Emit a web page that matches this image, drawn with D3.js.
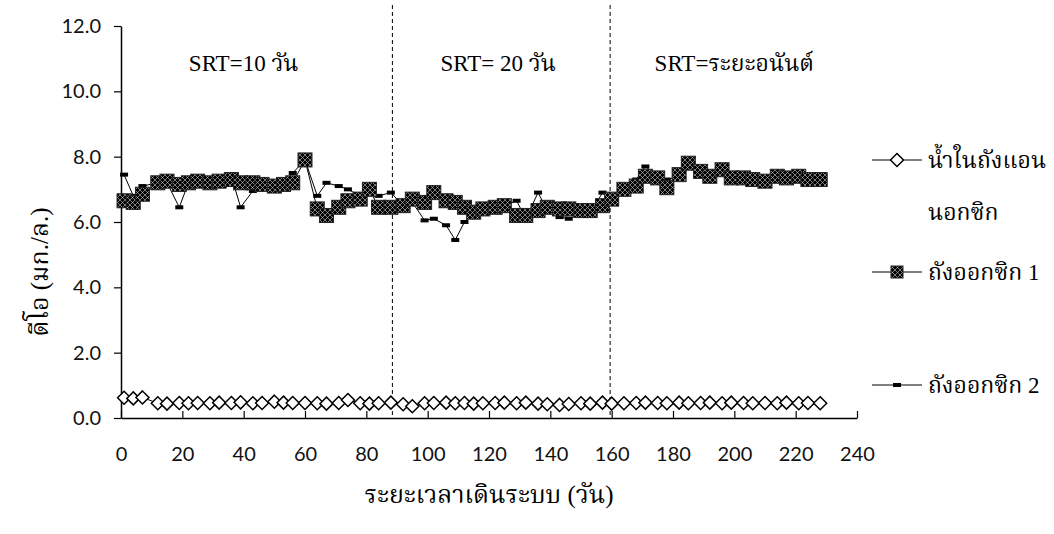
<!DOCTYPE html>
<html>
<head>
<meta charset="utf-8">
<script src="https://cdn.jsdelivr.net/npm/d3@7"></script>
<style>
  html, body { margin: 0; padding: 0; background: #fff; }
  svg { display: block; }
</style>
</head>
<body>
<svg id="chart" width="1054" height="534"></svg>
<script>
// Sampling days (operating time, days)
const days = [1, 4, 7, 12, 15, 19, 22, 25, 29, 32,
  36, 39, 43, 46, 50, 53, 56, 60, 64, 67,
  71, 74, 78, 81, 84, 88, 92, 95, 99, 102,
  106, 109, 112, 115, 118, 122, 125, 129, 132, 136,
  139, 143, 146, 150, 153, 157, 160, 164, 168, 171,
  175, 178, 182, 185, 189, 192, 196, 199, 203, 206,
  210, 214, 217, 221, 224, 228];

// DO in the anoxic tank (mg/L)
const anoxicDO = [0.62, 0.60, 0.63, 0.45, 0.44, 0.46, 0.45, 0.46, 0.45, 0.47,
  0.46, 0.48, 0.45, 0.46, 0.50, 0.47, 0.46, 0.46, 0.45, 0.44,
  0.46, 0.55, 0.45, 0.44, 0.45, 0.47, 0.42, 0.36, 0.45, 0.46,
  0.47, 0.45, 0.46, 0.44, 0.45, 0.46, 0.47, 0.45, 0.47, 0.44,
  0.42, 0.40, 0.43, 0.45, 0.44, 0.47, 0.44, 0.45, 0.46, 0.47,
  0.46, 0.45, 0.47, 0.45, 0.46, 0.47, 0.45, 0.47, 0.46, 0.45,
  0.46, 0.45, 0.47, 0.45, 0.46, 0.45];

// DO in oxic tank 1 (mg/L)
const oxic1DO = [6.65, 6.60, 6.85, 7.20, 7.25, 7.15, 7.20, 7.25, 7.20, 7.25,
  7.30, 7.20, 7.20, 7.15, 7.10, 7.15, 7.20, 7.90, 6.40, 6.20,
  6.45, 6.65, 6.70, 7.00, 6.45, 6.45, 6.50, 6.70, 6.60, 6.90,
  6.65, 6.60, 6.45, 6.30, 6.40, 6.45, 6.50, 6.20, 6.20, 6.35,
  6.45, 6.40, 6.40, 6.35, 6.35, 6.50, 6.70, 7.00, 7.10, 7.40,
  7.35, 7.05, 7.45, 7.80, 7.55, 7.40, 7.60, 7.35, 7.35, 7.30,
  7.25, 7.40, 7.35, 7.40, 7.30, 7.30];

// DO in oxic tank 2 (mg/L)
const oxic2DO = [7.45, 6.80, 7.10, 7.20, 7.20, 6.45, 7.20, 7.20, 7.25, 7.25,
  7.40, 6.45, 6.95, 7.15, 7.10, 7.20, 7.50, 7.90, 6.80, 7.20,
  7.10, 7.00, 6.80, 6.95, 6.80, 6.90, 6.50, 6.60, 6.05, 6.10,
  5.90, 5.45, 6.00, 6.30, 6.40, 6.45, 6.50, 6.65, 6.10, 6.90,
  6.35, 6.15, 6.10, 6.25, 6.25, 6.90, 6.70, 7.00, 7.30, 7.70,
  7.40, 7.30, 7.40, 7.80, 7.60, 7.40, 7.70, 7.35, 7.35, 7.30,
  7.30, 7.45, 7.40, 7.45, 7.35, 7.40];

const xTicks = [0, 20, 40, 60, 80, 100, 120, 140, 160, 180, 200, 220, 240];
const yTicks = [0, 2, 4, 6, 8, 10, 12];

// SRT phase boundaries (day) and phase captions
const phaseBounds = [88.5, 159.5];
const phaseLabels = [
  { text: "SRT=10 วัน", day: 40 },
  { text: "SRT= 20 วัน", day: 123 },
  { text: "SRT=ระยะอนันต์", day: 200 }
];

const legendLabels = [["น้ำในถังแอน", "นอกซิก"], ["ถังออกซิก 1"], ["ถังออกซิก 2"]];
const xTitle = "ระยะเวลาเดินระบบ (วัน)";
const yTitle = "ดีโอ (มก./ล.)";

const numFont = "Lato, 'Open Sans', 'Noto Sans', sans-serif";
const thaiFont = "'Liberation Serif', Kinnari, Norasi, Laksaman, 'TH Sarabun New', 'Noto Serif Thai', serif";

const svg = d3.select("#chart");
const plot = { left: 121, right: 857, top: 26, bottom: 418 };

const x = d3.scaleLinear().domain([0, 240]).range([plot.left, plot.right]);
const y = d3.scaleLinear().domain([0, 12]).range([plot.bottom, plot.top]);

// Cross-hatched fill for the oxic tank 1 squares
const defs = svg.append("defs");
const pat = defs.append("pattern")
  .attr("id", "hatch")
  .attr("patternUnits", "userSpaceOnUse")
  .attr("width", 5).attr("height", 5);
pat.append("rect").attr("width", 5).attr("height", 5).attr("fill", "#000");
pat.append("path").attr("d", "M0,0L5,5M5,0L0,5")
  .attr("stroke", "#e0e0e0").attr("stroke-width", 0.55);

// Axes
const yAxis = d3.axisLeft(y).tickValues(yTicks).tickFormat(d3.format(".1f"))
  .tickSize(7).tickSizeOuter(0);
const gy = svg.append("g").attr("transform", `translate(${plot.left},0)`).call(yAxis);
gy.select(".domain").attr("stroke", "#000").attr("stroke-width", 1.5);
gy.selectAll(".tick line").attr("stroke", "#000").attr("stroke-width", 1.2);
gy.selectAll(".tick text").attr("x", -20).attr("font-family", numFont)
  .attr("font-size", 20).attr("fill", "#111");

const xAxis = d3.axisBottom(x).tickValues(xTicks).tickFormat(d3.format("d"))
  .tickSize(-7).tickSizeOuter(0);
const gx = svg.append("g").attr("transform", `translate(0,${plot.bottom})`).call(xAxis);
gx.select(".domain").attr("stroke", "#000").attr("stroke-width", 1.5);
gx.selectAll(".tick line").attr("stroke", "#000").attr("stroke-width", 1.2);
gx.selectAll(".tick text").attr("y", 29).attr("font-family", numFont)
  .attr("font-size", 20).attr("fill", "#111");

// Phase boundaries
svg.selectAll(".phase").data(phaseBounds).join("line")
  .attr("class", "phase")
  .attr("x1", d => x(d)).attr("x2", d => x(d))
  .attr("y1", 5).attr("y2", plot.bottom)
  .attr("stroke", "#000").attr("stroke-width", 1)
  .attr("stroke-dasharray", "4,3");

svg.selectAll(".phaseLabel").data(phaseLabels).join("text")
  .attr("class", "phaseLabel")
  .attr("x", d => x(d.day)).attr("y", 71)
  .attr("text-anchor", "middle")
  .attr("font-family", thaiFont).attr("font-size", 23).attr("fill", "#000")
  .text(d => d.text);

const line = d3.line().x(d => x(d[0])).y(d => y(d[1]));
const pts = vals => days.map((d, i) => [d, vals[i]]);

// Oxic tank 2: thin line with small dash markers
svg.append("path").datum(pts(oxic2DO)).attr("d", line)
  .attr("fill", "none").attr("stroke", "#000").attr("stroke-width", 1);
svg.append("g").selectAll("rect").data(pts(oxic2DO)).join("rect")
  .attr("x", d => x(d[0]) - 4).attr("y", d => y(d[1]) - 2)
  .attr("width", 8).attr("height", 4).attr("fill", "#000");

// Oxic tank 1: line with hatched squares
svg.append("path").datum(pts(oxic1DO)).attr("d", line)
  .attr("fill", "none").attr("stroke", "#000").attr("stroke-width", 1);
svg.append("g").selectAll("rect").data(pts(oxic1DO)).join("rect")
  .attr("x", d => x(d[0]) - 7).attr("y", d => y(d[1]) - 7)
  .attr("width", 14).attr("height", 14)
  .attr("fill", "url(#hatch)").attr("stroke", "#222").attr("stroke-width", 1);

// Anoxic tank: hollow diamonds
svg.append("path").datum(pts(anoxicDO)).attr("d", line)
  .attr("fill", "none").attr("stroke", "#000").attr("stroke-width", 1);
const diamond = "M0,-6.5L6.5,0L0,6.5L-6.5,0Z";
svg.append("g").selectAll("path").data(pts(anoxicDO)).join("path")
  .attr("transform", d => `translate(${x(d[0])},${y(d[1])})`)
  .attr("d", diamond).attr("fill", "#fff").attr("stroke", "#000").attr("stroke-width", 1.5);

// Axis titles
svg.append("text").attr("x", 489).attr("y", 503).attr("text-anchor", "middle")
  .attr("font-family", thaiFont).attr("font-size", 25).attr("fill", "#000")
  .text(xTitle);
svg.append("text").attr("transform", "translate(48,272) rotate(-90)")
  .attr("text-anchor", "middle")
  .attr("font-family", thaiFont).attr("font-size", 25).attr("fill", "#000")
  .text(yTitle);

// Legend
const legendRows = [160, 272, 385];
const lg = svg.append("g");
legendLabels.forEach((lines, i) => {
  const cy = legendRows[i];
  lg.append("line").attr("x1", 872).attr("x2", 922).attr("y1", cy).attr("y2", cy)
    .attr("stroke", "#000").attr("stroke-width", 1);
  if (i === 0) {
    lg.append("path").attr("transform", `translate(897,${cy})`).attr("d", diamond)
      .attr("fill", "#fff").attr("stroke", "#000").attr("stroke-width", 1.5);
  } else if (i === 1) {
    lg.append("rect").attr("x", 891).attr("y", cy - 6).attr("width", 12).attr("height", 12)
      .attr("fill", "url(#hatch)").attr("stroke", "#222").attr("stroke-width", 1);
  } else {
    lg.append("rect").attr("x", 893).attr("y", cy - 2).attr("width", 8).attr("height", 4)
      .attr("fill", "#000");
  }
  lines.forEach((t, j) => {
    lg.append("text").attr("x", 928).attr("y", cy + 8 + j * 52)
      .attr("font-family", thaiFont).attr("font-size", 23).attr("fill", "#000")
      .text(t);
  });
});
</script>
</body>
</html>
